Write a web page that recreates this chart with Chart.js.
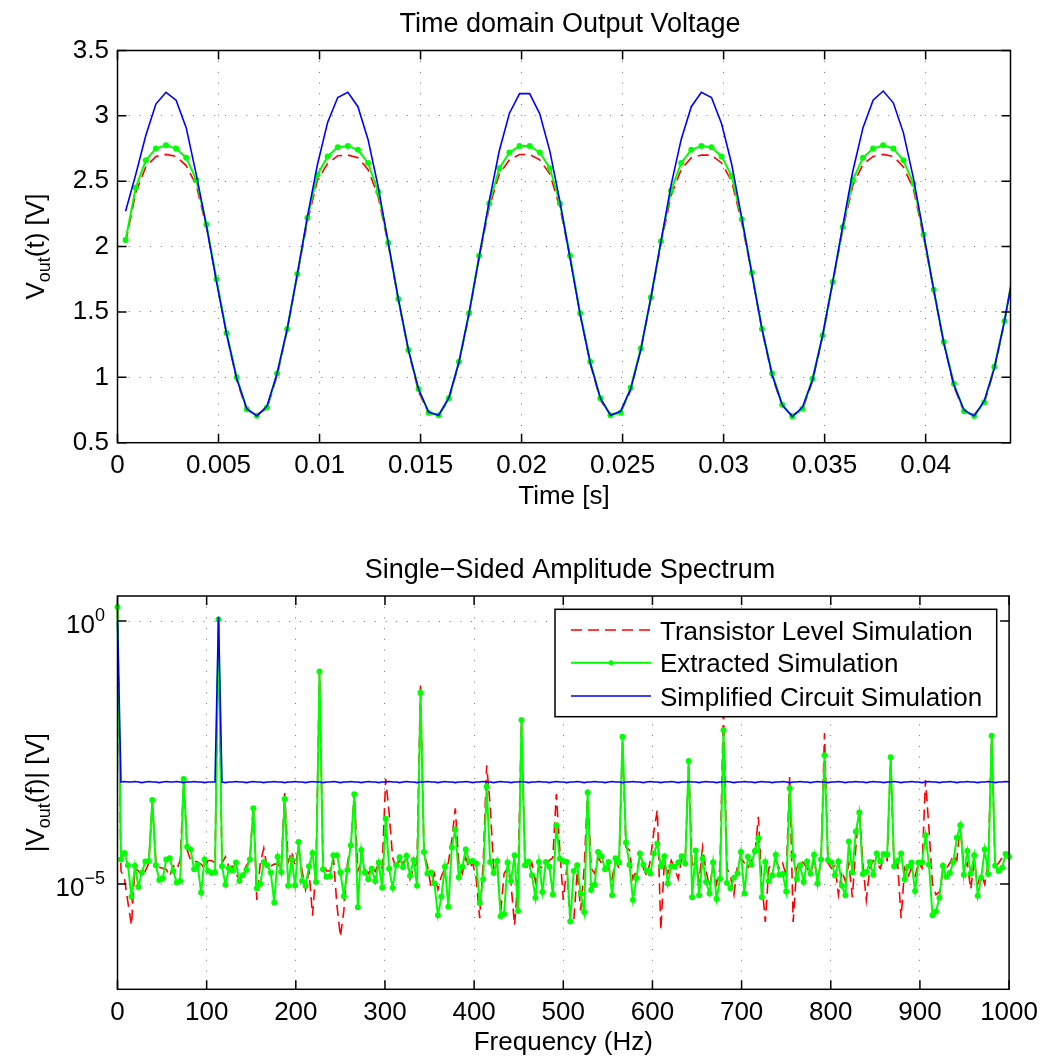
<!DOCTYPE html>
<html>
<head>
<meta charset="utf-8">
<script src="https://cdn.jsdelivr.net/npm/chart.js@4.4.1/dist/chart.umd.min.js"></script>
<style>
  html, body { margin: 0; padding: 0; background: #fff; }
  #wrap { position: relative; width: 1046px; height: 1061px; }
  canvas { position: absolute; left: 0; }
  #timeChart { top: 0; }
  #specChart { top: 530px; }
</style>
</head>
<body>
<div id="wrap">
  <canvas id="timeChart" width="1046" height="530"></canvas>
  <canvas id="specChart" width="1046" height="531"></canvas>
</div>
<script>
// ---- time domain (s / V) ----
const timeS = [
  0.0004,0.0009,0.0014,0.0019,0.0024,0.0029,0.0034,0.0039,0.0044,0.0049,
  0.0054,0.0059,0.0064,0.0069,0.0074,0.0079,0.0084,0.0089,0.0094,0.0099,
  0.0104,0.0109,0.0114,0.0119,0.0124,0.0129,0.0134,0.0139,0.0144,0.0149,
  0.0154,0.0159,0.0164,0.0169,0.0174,0.0179,0.0184,0.0189,0.0194,0.0199,
  0.0204,0.0209,0.0214,0.0219,0.0224,0.0229,0.0234,0.0239,0.0244,0.0249,
  0.0254,0.0259,0.0264,0.0269,0.0274,0.0279,0.0284,0.0289,0.0294,0.0299,
  0.0304,0.0309,0.0314,0.0319,0.0324,0.0329,0.0334,0.0339,0.0344,0.0349,
  0.0354,0.0359,0.0364,0.0369,0.0374,0.0379,0.0384,0.0389,0.0394,0.0399,
  0.0404,0.0409,0.0414,0.0419,0.0424,0.0429,0.0434,0.0439,0.0444
];
const vTransistor = [
  2.03,2.41,2.61,2.69,2.705,2.69,2.62,2.47,2.15,1.74,
  1.33,0.98,0.745,0.717,0.76,1.01,1.36,1.78,2.19,2.51,
  2.635,2.695,2.70,2.68,2.59,2.385,2.015,1.59,1.20,0.89,
  0.725,0.715,0.825,1.105,1.48,1.915,2.30,2.555,2.664,2.704,
  2.704,2.664,2.555,2.30,1.915,1.48,1.105,0.825,0.715,0.728,
  0.90,1.21,1.60,2.02,2.39,2.59,2.68,2.70,2.70,2.64,
  2.50,2.18,1.79,1.36,1.01,0.78,0.713,0.75,0.97,1.31,
  1.72,2.13,2.47,2.63,2.69,2.705,2.69,2.61,2.44,2.07,
  1.66,1.26,0.93,0.732,0.715,0.80,1.06,1.42,1.85
];
const vExtracted = [
  2.05,2.45,2.66,2.75,2.775,2.75,2.68,2.51,2.17,1.75,
  1.34,1.00,0.755,0.707,0.77,1.03,1.37,1.79,2.22,2.55,
  2.69,2.76,2.77,2.74,2.64,2.42,2.03,1.60,1.21,0.91,
  0.73,0.71,0.84,1.12,1.49,1.93,2.33,2.60,2.72,2.77,
  2.77,2.72,2.60,2.33,1.93,1.49,1.12,0.84,0.71,0.73,
  0.92,1.22,1.61,2.04,2.43,2.64,2.74,2.77,2.76,2.69,
  2.54,2.21,1.80,1.37,1.03,0.79,0.70,0.76,0.99,1.32,
  1.73,2.15,2.51,2.68,2.75,2.775,2.75,2.66,2.48,2.09,
  1.67,1.27,0.95,0.74,0.705,0.81,1.08,1.43,1.86
];
const vSimplified = [
  2.27,2.55,2.85,3.09,3.18,3.12,2.91,2.55,2.16,1.73,
  1.33,0.99,0.76,0.705,0.78,1.03,1.37,1.79,2.23,2.63,
  2.95,3.14,3.18,3.07,2.82,2.46,2.03,1.60,1.21,0.91,
  0.735,0.71,0.845,1.115,1.49,1.92,2.35,2.735,3.02,3.17,
  3.17,3.015,2.73,2.344,1.91,1.48,1.11,0.84,0.71,0.74,
  0.91,1.21,1.61,2.04,2.47,2.82,3.07,3.18,3.14,2.94,
  2.63,2.22,1.79,1.37,1.02,0.79,0.70,0.77,0.98,1.32,
  1.73,2.16,2.58,2.91,3.12,3.19,3.10,2.87,2.52,2.10,
  1.67,1.26,0.94,0.75,0.705,0.82,1.07,1.43,1.85
];
const timeTicks = [0, 0.005, 0.01, 0.015, 0.02, 0.025, 0.03, 0.035, 0.04];
const timeTickLabels = ['0', '0.005', '0.01', '0.015', '0.02', '0.025', '0.03', '0.035', '0.04'];
const voltTicks = [0.5, 1, 1.5, 2, 2.5, 3, 3.5];
const voltTickLabels = ['0.5', '1', '1.5', '2', '2.5', '3', '3.5'];

// ---- spectrum: 512 point FFT at 2 kHz, single sided ----
const sampleRate = 2000, fftLength = 512;
const freqHz = Array.from({ length: fftLength / 2 + 1 }, (_, j) => j * sampleRate / fftLength);
// values are log10 of |Vout(f)| in V
const specTransistorLog = [
  0.25,-4.75,-4.90,-5.35,-5.78,-4.70,-4.75,-4.85,-4.75,-4.60,
  -3.45,-4.55,-4.68,-4.70,-4.72,-4.85,-4.65,-4.72,-4.55,-3.05,
  -4.35,-4.55,-4.56,-4.58,-4.62,-4.70,-4.55,-4.55,-4.60,0.00,
  -4.60,-4.48,-4.68,-4.66,-4.80,-4.92,-4.80,-4.65,-4.55,-3.50,
  -5.30,-4.60,-4.32,-4.70,-4.66,-4.62,-4.62,-4.70,-3.27,-4.58,
  -4.38,-4.65,-4.30,-4.75,-5.10,-4.75,-5.60,-4.70,-0.96,-4.55,
  -4.75,-4.75,-4.50,-5.40,-6.00,-5.50,-4.62,-4.25,-3.25,-4.75,
  -4.58,-4.72,-4.80,-4.68,-4.76,-4.60,-4.70,-3.00,-3.65,-4.50,
  -4.70,-4.55,-4.60,-4.48,-4.90,-4.70,-4.60,-1.20,-4.40,-4.65,
  -5.05,-4.80,-5.10,-4.85,-4.70,-4.60,-4.15,-3.56,-4.60,-4.80,
  -4.50,-4.70,-4.60,-4.90,-5.65,-4.60,-2.74,-3.50,-4.70,-4.60,
  -5.55,-4.80,-4.70,-5.00,-5.78,-4.90,-1.90,-4.55,-4.75,-4.60,
  -4.95,-4.65,-4.70,-4.65,-4.55,-4.50,-3.29,-4.35,-5.30,-4.70,
  -5.75,-5.70,-4.75,-5.50,-4.70,-3.20,-4.70,-4.80,-4.50,-4.60,
  -4.75,-4.70,-4.90,-4.55,-4.70,-2.30,-4.30,-4.35,-4.90,-4.75,
  -4.50,-4.70,-4.85,-4.55,-4.00,-3.59,-5.88,-4.60,-4.80,-4.55,
  -4.70,-4.90,-4.50,-4.55,-2.70,-4.70,-4.55,-4.95,-4.30,-4.75,
  -5.05,-4.65,-5.00,-4.70,-1.60,-4.70,-4.85,-5.20,-4.65,-4.50,
  -4.60,-4.70,-4.55,-4.45,-3.72,-4.95,-5.72,-4.70,-4.60,-4.55,
  -4.70,-4.60,-4.85,-2.96,-5.72,-4.70,-4.55,-4.60,-4.70,-4.80,
  -4.55,-4.90,-4.60,-2.13,-4.60,-4.70,-4.65,-5.20,-4.75,-4.95,
  -4.60,-5.25,-4.30,-3.56,-4.60,-5.30,-4.70,-4.55,-4.60,-4.70,
  -4.50,-4.55,-2.60,-4.75,-4.60,-5.65,-4.70,-4.85,-4.70,-4.85,
  -4.60,-4.70,-3.02,-3.95,-5.00,-5.20,-5.15,-4.75,-4.70,-4.60,
  -4.45,-4.55,-3.85,-4.70,-4.60,-5.10,-4.55,-5.00,-4.80,-5.00,
  -4.60,-2.18,-4.70,-4.60,-4.50,-4.45,-4.40
];
const specExtractedLog = [
  0.27,-4.53,-4.41,-4.64,-5.24,-4.65,-5.05,-4.78,-4.57,-4.56,
  -3.40,-4.64,-4.92,-4.89,-4.53,-4.51,-4.75,-4.97,-4.94,-3.00,
  -4.29,-4.34,-4.72,-4.63,-5.16,-4.53,-4.75,-4.79,-4.78,0.03,
  -4.66,-5.01,-4.70,-4.74,-4.59,-4.94,-4.83,-4.73,-4.53,-3.56,
  -5.08,-5.00,-4.58,-4.64,-4.78,-5.35,-4.48,-4.77,-3.38,-5.03,
  -4.53,-5.02,-4.20,-4.94,-5.03,-4.66,-4.41,-4.96,-0.96,-4.72,
  -4.86,-4.85,-4.45,-4.45,-4.78,-5.23,-4.73,-4.26,-3.29,-5.44,
  -4.35,-4.78,-4.91,-4.71,-4.94,-4.59,-5.07,-3.76,-4.71,-5.07,
  -4.64,-4.49,-4.68,-4.46,-4.84,-4.54,-5.03,-1.36,-4.39,-4.80,
  -4.78,-4.99,-5.59,-5.24,-4.67,-5.43,-4.30,-3.96,-4.87,-4.67,
  -4.34,-4.57,-4.56,-4.61,-5.36,-4.91,-3.15,-4.58,-4.79,-4.56,
  -5.61,-5.57,-4.59,-4.94,-4.45,-5.51,-1.88,-4.64,-4.57,-4.83,
  -5.26,-4.58,-5.15,-4.58,-4.67,-5.20,-3.88,-4.52,-4.56,-4.58,
  -5.71,-4.75,-4.64,-5.18,-5.53,-3.26,-5.11,-5.01,-4.39,-4.47,
  -4.72,-4.58,-5.21,-4.51,-4.59,-2.20,-4.21,-4.63,-5.30,-4.89,
  -4.42,-4.63,-4.74,-4.80,-4.42,-4.23,-4.66,-4.47,-4.99,-4.66,
  -4.67,-4.59,-4.47,-4.61,-2.66,-5.25,-4.36,-5.21,-4.52,-4.96,
  -5.18,-4.59,-5.28,-4.90,-2.07,-4.98,-5.08,-4.88,-4.80,-4.39,
  -5.18,-4.48,-4.63,-4.37,-4.13,-5.25,-4.58,-4.94,-4.83,-4.44,
  -4.82,-4.81,-5.14,-3.18,-4.46,-4.90,-4.64,-4.96,-4.57,-4.80,
  -4.44,-4.99,-4.53,-2.55,-4.54,-4.59,-4.83,-4.57,-5.03,-5.21,
  -4.19,-4.78,-4.00,-3.64,-4.81,-4.77,-4.58,-4.82,-4.42,-4.57,
  -4.43,-4.44,-2.59,-4.66,-4.56,-4.42,-4.91,-4.67,-4.59,-5.13,
  -4.59,-4.59,-4.07,-4.63,-5.59,-5.52,-5.26,-4.65,-4.86,-4.79,
  -4.58,-4.12,-3.88,-4.82,-4.37,-4.80,-4.45,-5.22,-4.88,-4.34,
  -4.81,-2.18,-4.65,-4.75,-4.69,-4.43,-4.48
];
const specSimplifiedLog = [
  -0.01,-3.06,-3.05,-3.06,-3.06,-3.05,-3.06,-3.07,-3.06,-3.05,
  -3.06,-3.06,-3.07,-3.06,-3.05,-3.06,-3.06,-3.05,-3.06,-3.07,
  -3.06,-3.06,-3.05,-3.06,-3.06,-3.07,-3.06,-3.06,-3.06,0.08,
  -3.06,-3.07,-3.06,-3.06,-3.05,-3.06,-3.06,-3.07,-3.06,-3.05,
  -3.06,-3.06,-3.07,-3.06,-3.06,-3.05,-3.06,-3.06,-3.07,-3.06,
  -3.06,-3.05,-3.06,-3.06,-3.07,-3.06,-3.05,-3.06,-3.06,-3.07,
  -3.06,-3.06,-3.05,-3.06,-3.07,-3.06,-3.06,-3.05,-3.06,-3.06,
  -3.07,-3.06,-3.05,-3.06,-3.06,-3.07,-3.06,-3.06,-3.05,-3.06,
  -3.06,-3.07,-3.06,-3.05,-3.06,-3.06,-3.07,-3.06,-3.06,-3.05,
  -3.06,-3.06,-3.07,-3.06,-3.05,-3.06,-3.06,-3.07,-3.06,-3.06,
  -3.05,-3.06,-3.07,-3.06,-3.06,-3.05,-3.06,-3.06,-3.07,-3.06,
  -3.05,-3.06,-3.06,-3.07,-3.06,-3.06,-3.05,-3.06,-3.07,-3.06,
  -3.06,-3.05,-3.06,-3.06,-3.07,-3.06,-3.05,-3.06,-3.06,-3.07,
  -3.06,-3.06,-3.05,-3.06,-3.07,-3.06,-3.06,-3.05,-3.06,-3.06,
  -3.07,-3.06,-3.05,-3.06,-3.06,-3.07,-3.06,-3.06,-3.05,-3.06,
  -3.06,-3.07,-3.06,-3.05,-3.06,-3.06,-3.07,-3.06,-3.06,-3.05,
  -3.06,-3.07,-3.06,-3.06,-3.05,-3.06,-3.06,-3.07,-3.06,-3.05,
  -3.06,-3.06,-3.07,-3.06,-3.06,-3.05,-3.06,-3.07,-3.06,-3.06,
  -3.05,-3.06,-3.06,-3.07,-3.06,-3.05,-3.06,-3.06,-3.07,-3.06,
  -3.06,-3.05,-3.06,-3.07,-3.06,-3.06,-3.05,-3.06,-3.06,-3.07,
  -3.06,-3.05,-3.06,-3.06,-3.07,-3.06,-3.06,-3.05,-3.06,-3.07,
  -3.06,-3.06,-3.05,-3.06,-3.06,-3.07,-3.06,-3.05,-3.06,-3.06,
  -3.07,-3.06,-3.06,-3.05,-3.06,-3.07,-3.06,-3.06,-3.05,-3.06,
  -3.06,-3.07,-3.06,-3.05,-3.06,-3.06,-3.07,-3.06,-3.06,-3.05,
  -3.06,-3.07,-3.06,-3.06,-3.05,-3.06,-3.06,-3.07,-3.06,-3.06,
  -3.05,-3.06,-3.07,-3.06,-3.06,-3.05,-3.06
];
const freqTicks = [0, 100, 200, 300, 400, 500, 600, 700, 800, 900, 1000];
const freqTickLabels = ['0', '100', '200', '300', '400', '500', '600', '700', '800', '900', '1000'];
const magTicks = [1e-5, 1];

const seriesNames = ['Transistor Level Simulation', 'Extracted Simulation', 'Simplified Circuit Simulation'];
const seriesColors = ['#ff0000', '#00ff00', '#0000ff'];

const FONT = '"Liberation Sans", Arial, Helvetica, sans-serif';

function toPoints(xs, ys) {
    return xs.map((x, i) => ({ x: x, y: ys[i] }));
}

function makeDatasets(xs, red, green, blue) {
    return [
        { label: seriesNames[0], data: toPoints(xs, red), borderColor: seriesColors[0], borderWidth: 1.6,
          borderDash: [11, 6], pointRadius: 0, order: 3 },
        { label: seriesNames[1], data: toPoints(xs, green), borderColor: seriesColors[1], borderWidth: 2,
          pointRadius: 3, pointBackgroundColor: seriesColors[1], pointBorderWidth: 0, order: 2 },
        { label: seriesNames[2], data: toPoints(xs, blue), borderColor: seriesColors[2], borderWidth: 1.6,
          pointRadius: 0, order: 1 }
    ];
}

// text with sub/superscript pieces, optionally rotated
function drawRich(ctx, parts, x, y, rotated, align) {
    ctx.save();
    ctx.translate(x, y);
    if (rotated) ctx.rotate(-Math.PI / 2);
    let w = 0;
    parts.forEach(p => { ctx.font = p.size + 'px ' + FONT; p.w = ctx.measureText(p.text).width; w += p.w; });
    let u = align === 'right' ? -w : -w / 2;
    ctx.fillStyle = '#000';
    ctx.textAlign = 'left';
    ctx.textBaseline = 'alphabetic';
    parts.forEach(p => {
        ctx.font = p.size + 'px ' + FONT;
        ctx.fillText(p.text, u, p.dy || 0);
        u += p.w;
    });
    ctx.restore();
}

// MATLAB style box with inward ticks, title and axis labels
function framePlugin(cfg) {
    return {
        id: 'frame',
        afterDraw(chart) {
            const ctx = chart.ctx, a = chart.chartArea;
            const xs = chart.scales.x, ys = chart.scales.y;
            ctx.save();
            ctx.strokeStyle = '#000';
            ctx.lineWidth = 1.5;
            ctx.setLineDash([]);
            ctx.beginPath();
            xs.ticks.forEach(t => {
                const px = xs.getPixelForValue(t.value);
                ctx.moveTo(px, a.bottom); ctx.lineTo(px, a.bottom - 9);
                ctx.moveTo(px, a.top); ctx.lineTo(px, a.top + 9);
            });
            ys.ticks.forEach(t => {
                const py = ys.getPixelForValue(t.value);
                ctx.moveTo(a.left, py); ctx.lineTo(a.left + 9, py);
                ctx.moveTo(a.right, py); ctx.lineTo(a.right - 9, py);
            });
            ctx.stroke();
            ctx.strokeRect(a.left, a.top, a.right - a.left, a.bottom - a.top);

            ctx.fillStyle = '#000';
            ctx.textAlign = 'center';
            ctx.textBaseline = 'alphabetic';
            ctx.font = '27px ' + FONT;
            ctx.fillText(cfg.title, 570, a.top - 18.5);
            ctx.font = '26px ' + FONT;
            ctx.fillText(cfg.xTitle, (a.left + a.right) / 2, a.bottom + 61);
            drawRich(ctx, cfg.yTitle, 44, (a.top + a.bottom) / 2, true);

            if (cfg.logLabels) {
                ys.ticks.forEach(t => {
                    const py = ys.getPixelForValue(t.value);
                    const e = Math.round(Math.log10(t.value));
                    const exp = e < 0 ? '\u2212' + Math.abs(e) : String(e);
                    drawRich(ctx, [
                        { text: '10', size: 26, dy: 12 },
                        { text: exp, size: 18, dy: 0 }
                    ], 105, py, false, 'right');
                });
            }
            if (cfg.legend) drawLegend(chart);
            ctx.restore();
        }
    };
}

function drawLegend(chart) {
    const ctx = chart.ctx;
    const off = 530;
    const box = { left: 555, top: 609.3 - off, right: 996.7, bottom: 716.7 - off };
    const rowY = [630 - off, 662.7 - off, 696 - off];
    ctx.save();
    ctx.fillStyle = '#fff';
    ctx.fillRect(box.left, box.top, box.right - box.left, box.bottom - box.top);
    ctx.strokeStyle = '#000';
    ctx.lineWidth = 1.5;
    ctx.strokeRect(box.left, box.top, box.right - box.left, box.bottom - box.top);
    chart.data.datasets.forEach((ds, i) => {
        const y = rowY[i];
        ctx.strokeStyle = ds.borderColor;
        ctx.lineWidth = ds.borderWidth;
        ctx.setLineDash(ds.borderDash || []);
        ctx.beginPath();
        ctx.moveTo(571, y); ctx.lineTo(651, y);
        ctx.stroke();
        ctx.setLineDash([]);
        if (ds.pointRadius > 0) {
            ctx.fillStyle = ds.borderColor;
            ctx.beginPath();
            ctx.arc(611, y, 2.5, 0, Math.PI * 2);
            ctx.fill();
        }
        ctx.fillStyle = '#000';
        ctx.font = '26px ' + FONT;
        ctx.textAlign = 'left';
        ctx.textBaseline = 'alphabetic';
        ctx.fillText(ds.label, 660, y + 9.5);
    });
    ctx.restore();
}

const gridOpts = { color: 'rgba(0,0,0,0.55)', lineWidth: 1, drawTicks: false };
const borderOpts = { display: false, dash: [1, 9.7] };
const tickFont = { family: FONT, size: 26 };

new Chart(document.getElementById('timeChart'), {
    type: 'line',
    data: { datasets: makeDatasets(timeS, vTransistor, vExtracted, vSimplified) },
    options: {
        responsive: false,
        animation: false,
        events: [],
        layout: { padding: { top: 50.5, left: 0, right: 35.5, bottom: 0 } },
        plugins: { legend: { display: false }, title: { display: false }, tooltip: { enabled: false } },
        scales: {
            x: {
                type: 'linear', min: 0, max: 0.0442,
                afterBuildTicks: s => { s.ticks = timeTicks.map(v => ({ value: v })); },
                afterFit: s => { s.height = 87.3; },
                ticks: { callback: (v, i) => timeTickLabels[i], font: tickFont, color: '#000', padding: 8,
                         autoSkip: false, maxRotation: 0 },
                grid: gridOpts, border: borderOpts
            },
            y: {
                type: 'linear', min: 0.5, max: 3.5,
                afterBuildTicks: s => { s.ticks = voltTicks.map(v => ({ value: v })); },
                afterFit: s => { s.width = 117.5; },
                ticks: { callback: (v, i) => voltTickLabels[i], font: tickFont, color: '#000', padding: 8.5 },
                grid: gridOpts, border: borderOpts
            }
        }
    },
    plugins: [framePlugin({
        title: 'Time domain Output Voltage',
        xTitle: 'Time [s]',
        yTitle: [{ text: 'V', size: 26 }, { text: 'out', size: 18, dy: 6 }, { text: '(t) [V]', size: 26 }]
    })]
});

const specData = makeDatasets(freqHz,
    specTransistorLog.map(l => Math.pow(10, l)),
    specExtractedLog.map(l => Math.pow(10, l)),
    specSimplifiedLog.map(l => Math.pow(10, l)));
specData.forEach(ds => { ds.clip = false; });

new Chart(document.getElementById('specChart'), {
    type: 'line',
    data: { datasets: specData },
    options: {
        responsive: false,
        animation: false,
        events: [],
        layout: { padding: { top: 66, left: 0, right: 35.5, bottom: 0 } },
        plugins: { legend: { display: false }, title: { display: false }, tooltip: { enabled: false } },
        scales: {
            x: {
                type: 'linear', min: 0, max: 1000,
                afterBuildTicks: s => { s.ticks = freqTicks.map(v => ({ value: v })); },
                afterFit: s => { s.height = 71.7; },
                ticks: { callback: (v, i) => freqTickLabels[i], font: tickFont, color: '#000', padding: 8,
                         autoSkip: false, maxRotation: 0 },
                grid: gridOpts, border: borderOpts
            },
            y: {
                type: 'logarithmic', min: 1e-7, max: 3,
                afterBuildTicks: s => { s.ticks = magTicks.map(v => ({ value: v })); },
                afterFit: s => { s.width = 117.5; },
                ticks: { display: false },
                grid: gridOpts, border: borderOpts
            }
        }
    },
    plugins: [framePlugin({
        title: 'Single\u2212Sided Amplitude Spectrum',
        xTitle: 'Frequency (Hz)',
        yTitle: [{ text: '|V', size: 26 }, { text: 'out', size: 18, dy: 6 }, { text: '(f)| [V]', size: 26 }],
        logLabels: true,
        legend: true
    })]
});
</script>
</body>
</html>
